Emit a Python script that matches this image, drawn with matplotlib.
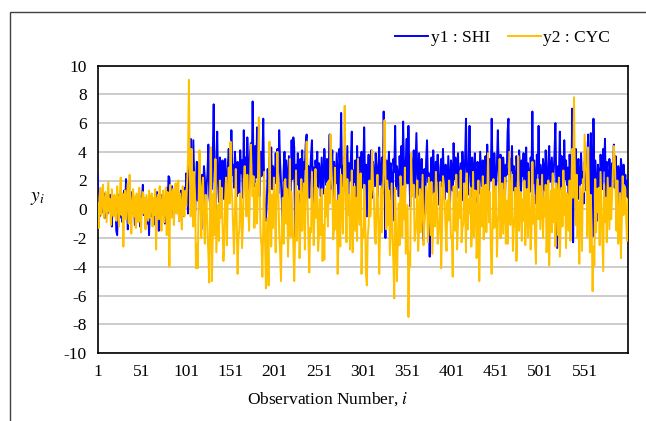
import numpy as np
import matplotlib
matplotlib.use('Agg')
import matplotlib.pyplot as plt
from matplotlib.patches import Rectangle

# observation values (600 obs per series)
y1_shi = [
    2.4, 0.3, -0.5, 0.6, 0.8, -0.2, 0.4, 1.1, -0.6, 0.2, 0.9, -0.3, 0.5, -0.1, 1.0, 0.3, -1.2, 0.7, 0.1, -0.4,
    0.6, -1.5, -1.8, 0.4, 1.0, -0.6, 0.2, 0.8, -0.9, 0.3, 1.3, -0.2, 2.1, 0.5, -1.4, 0.2, 0.9, -0.5, 0.4, 1.2,
    -0.3, 0.6, -1.1, 0.1, 0.8, -0.6, 0.3, 1.0, -1.2, 0.2, 0.7, 1.7, -0.4, 0.3, -0.8, 0.5, -1.0, 0.2, -1.8, 0.4,
    0.9, -0.5, 0.3, -1.1, 0.6, 0.1, -0.7, 1.2, 0.2, -1.5, 0.8, 0.3, -0.4, 1.0, -0.2, 0.6, -1.0, 0.4, 1.5, 0.2,
    2.3, 2.2, 0.5, -0.3, 1.6, 0.2, -0.6, 0.9, 0.3, -0.2, 1.1, 0.4, -0.8, 0.6, 1.3, 0.1, -0.5, 0.7, 1.5, 0.3,
    2.5, 1.8, -0.3, 3.2, 1.5, 4.9, 2.6, 1.2, 4.8, 2.0, -0.5, 1.9, 3.3, 0.6, 2.8, 3.2, 1.1, -1.4, 2.4, 0.8,
    3.0, 2.2, -0.8, 1.6, 2.5, 4.5, 1.0, 0.3, 2.1, 1.4, 3.8, 7.3, 2.0, -1.3, 3.1, 5.4, 1.8, 0.5, 3.6, 2.9,
    1.2, 3.4, 2.3, 0.7, 3.5, 2.1, 1.4, 3.0, 4.2, 2.6, 1.9, 5.5, 2.4, 3.1, 1.5, 4.0, 2.7, 0.9, 3.3, 2.0,
    1.1, 4.1, 2.5, 3.4, 0.8, 5.5, 2.2, 3.6, 1.7, 5.0, 2.9, 1.3, 3.8, 4.6, 2.4, 7.5, 3.0, 1.6, 4.4, 2.2,
    5.7, 1.9, 3.5, 0.9, 4.0, 2.3, 3.2, 6.3, 1.5, -0.3, -0.8, 0.5, 2.8, 1.2, 3.6, 2.0, 4.3, 1.4, 3.0, 2.6,
    1.8, 3.9, 2.4, 4.2, 1.1, 5.5, 3.3, 2.0, 0.6, -2.3, 2.7, 4.0, 1.6, 3.4, 2.2, 0.9, 3.7, 2.5, 1.3, 4.8,
    2.1, 5.0, 4.3, -2.2, 3.1, 1.7, 3.9, 2.6, 0.5, 3.5, 2.0, 4.1, 1.2, 3.3, 2.8, 4.6, 5.2, 1.9, 3.0, 0.8,
    2.5, 3.8, 4.8, 1.6, 2.9, 0.4, 3.4, 2.2, 4.0, 1.5, 3.2, 2.7, 0.9, 3.6, 2.3, 1.1, 4.2, 2.8, 1.7, 3.5,
    2.0, 3.1, 5.2, 1.4, 2.6, 4.1, 0.7, 3.3, 2.4, 1.8, 3.9, 2.1, 0.5, 4.2, 2.9, 6.7, 1.6, 3.0, 2.2, 3.7,
    1.3, 2.8, 4.4, 0.6, 3.2, 2.0, 3.5, 5.4, 1.0, 2.7, 1.9, 3.4, 0.3, 4.4, 2.5, 1.2, 3.6, 2.1, 4.0, 1.5,
    2.9, 5.7, 1.8, 3.1, -0.5, 2.4, 3.8, 1.3, 2.6, 4.1, 0.8, 3.3, 2.2, 1.6, 3.9, 2.7, 0.9, 3.0, 4.3, 1.7,
    2.4, 3.6, 1.1, 6.8, 2.9, -2.0, 3.4, 1.5, 2.8, 4.0, 0.7, 3.2, 2.1, -0.8, 3.5, 2.6, 5.8, 1.4, 3.0, 2.3,
    0.9, 3.7, 2.2, 4.4, 1.6, 6.1, 2.8, 0.5, 3.3, 4.9, 1.8, 5.8, 2.5, 0.2, 3.6, 1.2, 2.9, 4.1, 0.8, 3.0,
    5.3, 2.4, 1.0, 3.9, 2.7, -0.2, 3.5, 1.7, -2.2, 2.8, 0.6, 3.4, 4.8, 1.9, 2.5, -3.3, 2.2, 3.6, 1.1, 4.1,
    2.6, 0.9, 3.3, 2.0, 3.8, 1.4, 0.3, 2.9, 3.5, 1.6, 4.2, 2.3, 0.7, 3.1, 2.5, 1.2, 3.7, 2.0, 0.4, 3.4,
    2.7, 1.3, 4.6, 2.1, 3.6, 0.8, 2.9, 3.9, 1.5, 2.4, 3.2, 0.6, 4.0, 2.2, 1.7, 3.5, 6.3, 2.6, 1.0, 3.1,
    5.8, 2.3, 0.9, 3.6, 2.7, 1.4, 3.9, 2.0, 0.5, 3.3, 2.5, 1.1, 4.0, 2.8, 1.6, 3.4, 0.3, 2.9, 3.7, 1.8,
    4.5, 2.4, 1.2, 3.5, 2.0, 6.3, 2.7, 0.8, 3.9, 2.2, 1.5, 3.3, 5.5, 2.6, 0.9, 3.8, 2.1, 1.4, 3.6, 2.8,
    0.6, 3.1, 2.4, 5.4, 6.3, 1.9, 3.5, 2.7, 4.4, 1.3, 3.0, 2.2, 0.8, 3.7, 2.5, 1.6, 4.1, 2.9, 0.7, 3.4,
    2.3, 3.9, 1.5, 2.8, 4.3, 0.9, 3.2, 2.1, 1.2, 3.6, 2.6, 6.8, 1.8, 3.4, 2.0, 0.4, 3.8, 2.5, 5.8, 1.7,
    3.1, 2.4, -0.6, 3.5, 2.8, 1.3, 4.1, 2.2, 0.8, 3.3, 4.4, 1.9, 2.7, 3.6, 1.1, 2.5, 3.9, 6.0, 1.6, -2.7,
    3.0, 2.3, 5.4, 1.4, 3.7, 2.6, 0.9, 4.8, 2.1, 3.4, 1.7, 2.9, 0.5, 3.8, 2.4, 1.2, 7.0, -2.3, 3.1, 2.0,
    4.2, 1.5, 2.8, 3.5, 0.7, 2.2, 3.9, 1.8, 2.6, 0.4, 3.3, 2.1, 1.3, 3.6, 5.2, 2.4, 0.8, 5.3, 2.7, -1.9,
    6.3, 1.6, 3.4, 2.0, -0.8, 3.1, 2.5, 0.9, 3.8, 2.2, 1.4, 4.2, 2.7, 4.9, 0.6, 3.3, 2.0, 1.1, 3.5, 2.4,
    0.7, 3.2, 2.6, 4.5, 1.5, 3.7, 2.1, -0.3, 3.0, 2.3, 1.2, 3.5, 2.8, 0.5, 3.1, 1.8, 2.4, 0.9, 2.0, 1.9,
]

y2_cyc = [
    0.4, -1.3, 0.8, 1.5, -0.4, 0.9, 1.7, -0.6, 0.3, 1.2, -0.9, 0.5, 1.9, -0.2, 0.7, -1.1, 1.4, 0.2, -0.5, 1.0,
    0.3, -0.8, 1.6, 0.6, -1.2, 0.9, 2.2, -0.4, 1.1, -2.6, 0.5, 1.3, -0.7, 0.8, 1.8, -1.0, 2.4, 0.2, -1.7, 0.6,
    1.4, -0.5, 0.9, -1.3, 1.1, 0.3, -0.9, 1.5, 0.4, -1.6, 0.7, 1.2, -0.3, 0.8, -1.4, 1.0, 0.1, -0.8, 1.3, -0.6,
    0.5, 1.1, -1.2, 0.8, -0.4, 1.4, -2.8, 0.6, 1.0, -0.7, 1.6, 0.2, -1.5, 0.9, 1.3, -0.9, 0.4, 1.5, -1.8, 1.2,
    0.3, -4.0, 1.7, -0.6, 0.9, 1.4, -1.1, 0.5, 1.8, -0.3, 0.7, 2.0, -0.8, 1.1, 0.2, -1.4, 1.6, 0.4, -0.5, 1.3,
    0.2, 1.9, 3.5, 9.0, 2.8, -0.5, 4.2, 0.8, -1.2, 2.6, 1.0, -4.1, -2.4, -4.1, 0.6, 4.1, 1.2, -2.0, 1.5, 2.2,
    -0.9, -2.4, 1.0, 0.4, -1.6, -3.1, -5.1, 1.2, 4.3, -5.0, -1.7, 1.1, -1.8, 3.5, -3.0, -1.4, 0.3, -2.2, 2.0, -0.6,
    1.5, -1.1, -3.6, -2.4, 0.9, 2.2, -2.5, 1.1, 2.9, 0.4, 4.7, 1.9, 0.6, -1.3, -3.1, -0.5, 2.8, -0.8, -4.5, -2.0,
    -1.4, 1.1, 0.5, -2.7, -1.2, 2.0, 3.0, 1.6, -0.5, 2.4, 0.8, -1.5, 1.6, 4.5, 2.3, 0.9, 2.3, -1.3, 0.7, 1.8,
    -1.0, 2.2, 6.4, 1.3, -1.8, -2.5, -4.7, -0.9, 2.6, -2.1, -5.5, -1.7, -0.6, -5.3, 4.7, 0.4, -2.6, 1.0, -1.3, 2.2,
    0.6, -3.0, 1.0, 4.0, 1.5, -1.7, -2.9, -5.0, -1.2, 0.8, -2.4, 1.9, 2.1, -1.0, 1.4, -3.3, -0.5, 3.5, -1.9, 1.2,
    -0.7, -2.6, -5.0, -1.8, 2.7, -2.2, 0.9, 1.3, -3.4, -1.0, 2.1, -1.5, 0.4, 1.8, -2.8, 1.6, 4.7, 0.9, -2.0, -4.4,
    -1.3, -1.6, 2.6, 0.2, -2.5, -0.1, 2.8, -0.6, 1.5, -2.9, -1.7, 0.7, -1.8, 1.4, -3.6, -1.1, -3.5, 1.4, -0.5, 1.8,
    -1.2, 2.0, 0.4, 5.2, 2.8, 1.5, -2.1, -1.3, 2.9, -1.4, 0.6, -4.5, -2.2, 1.0, -2.6, 2.4, 0.8, -1.7, 1.9, 7.2,
    1.5, -2.3, 2.1, -0.4, 1.0, -2.8, -1.2, 2.7, -3.0, -0.5, 1.6, -1.5, 0.8, -2.2, 3.5, 0.1, -1.1, 2.5, -4.5, -1.4,
    -2.0, 1.7, 0.3, -4.5, -5.3, -1.9, -1.2, 2.0, -0.5, 1.2, 4.1, 1.8, 0.7, -1.9, -2.4, 0.6, 2.4, -0.9, -4.5, -1.2,
    1.5, -1.6, 0.8, 2.7, 6.2, 2.7, -1.4, 2.0, -1.1, 1.3, -3.2, -0.6, 1.8, -2.0, -3.7, -6.2, 1.5, -1.4, -5.0, -2.1,
    0.4, -2.5, 2.3, 1.2, -1.9, 1.6, -0.7, 2.9, -3.1, -1.5, 0.3, -7.5, -3.0, -4.0, 3.9, 1.3, 0.9, 1.7, -2.2, -1.6,
    -0.8, 2.0, -2.9, -1.4, 1.4, -1.6, 0.5, 2.4, -2.5, -1.1, -0.3, 1.6, 0.8, -2.3, 2.2, 0.2, -1.8, 1.9, -3.1, -1.0,
    1.1, -1.2, 2.6, 0.6, -2.4, -1.8, -0.5, 1.9, -4.1, -1.3, 2.3, 1.7, 0.4, -1.4, -2.9, 0.6, -0.8, 2.0, 0.3, -2.0,
    -1.9, -4.7, 1.6, 0.5, -1.5, 2.4, -2.8, -1.0, 1.2, -0.6, 2.7, -2.3, -1.3, -1.0, 1.8, 0.2, -3.0, 2.5, -1.4, 0.7,
    -0.3, 1.5, -2.6, -1.2, 2.6, -1.9, 0.6, 1.3, -3.4, -1.5, 2.0, -5.0, -0.9, 1.4, -1.2, 2.3, -2.1, 0.7, 1.7, -1.6,
    0.8, 3.9, -0.9, 1.2, -2.7, -4.5, -1.4, 2.1, -1.3, 0.5, 1.6, -3.3, -0.9, -0.4, 3.5, -2.0, 1.1, 1.8, -1.7, 0.3,
    2.2, -2.4, 0.6, -2.4, 1.0, 4.0, -1.1, 0.8, 2.4, -2.9, -1.3, -0.6, 1.5, -3.6, -1.0, 3.7, -1.5, 0.4, 1.2, -2.2,
    0.7, -0.8, 2.0, -2.5, 0.9, 1.4, -1.9, 2.6, 0.2, -2.8, -1.5, 3.3, -1.0, 1.0, -2.3, -3.8, 1.2, 2.1, -0.7, 1.6,
    -1.4, 0.6, 2.4, -2.0, 0.8, -0.5, 1.7, -3.0, -1.1, 2.0, -3.9, -0.3, 1.3, -1.6, 2.5, -0.9, 1.4, -2.6, 1.8, 0.5,
    -1.8, 2.2, -3.3, -1.0, 1.5, -1.2, 2.7, -0.4, 1.6, -2.7, 1.1, 0.7, -1.5, 2.0, -2.2, 1.3, 4.2, 0.8, 7.8, 2.4,
    -1.1, 2.4, -2.0, 0.5, -3.8, 1.6, 0.4, -2.9, 2.1, 1.2, 5.2, 3.6, 2.2, -1.9, 4.3, 0.9, -3.0, 1.0, -1.3, -5.7,
    -2.6, -3.9, 2.1, -1.6, 1.4, -0.2, 1.5, -2.5, 2.6, 0.3, -1.8, -4.3, 1.7, -0.9, 0.8, -2.3, 2.2, 0.5, -1.4, 1.5,
    -0.7, 0.9, 2.8, 4.4, 3.6, 1.3, -1.5, 2.0, -2.4, -1.2, 1.1, -3.4, -0.8, 2.3, -0.4, 1.6, 1.4, -0.9, -2.2, 0.7,
]

obs = np.arange(1, len(y1_shi) + 1)
x_ticks = [1, 51, 101, 151, 201, 251, 301, 351, 401, 451, 501, 551]
y_ticks = list(range(-10, 11, 2))

plt.rcParams['font.family'] = ['Liberation Serif', 'DejaVu Serif']
plt.rcParams['mathtext.fontset'] = 'stix'
plt.rcParams['axes.unicode_minus'] = False
plt.rcParams['font.size'] = 12.5

fig = plt.figure(figsize=(6.46, 4.21), dpi=100)
ax = fig.add_axes([97.7 / 646, 1 - 353 / 421, (628 - 97.7) / 646, (353 - 65.5) / 421])

ax.plot(obs, y1_shi, color='#0000FF', lw=1.4, label='y1 : SHI', zorder=3)
ax.plot(obs, y2_cyc, color='#FFC000', lw=1.4, label='y2 : CYC', zorder=4)

ax.set_xlim(1, len(y1_shi))
ax.set_ylim(-10, 10)
ax.set_xticks(x_ticks)
ax.set_yticks(y_ticks)
ax.tick_params(length=0, pad=8, labelsize=12.5, colors='black')
ax.yaxis.grid(True, color='#BFBFBF', lw=1.1)
ax.set_axisbelow(True)
for s in ax.spines.values():
    s.set_color('black')
    s.set_linewidth(1.2)

ax.set_xlabel('Observation Number, $i$', fontsize=12.5)
ax.xaxis.set_label_coords(0.434, -0.128)
ax.set_ylabel('$y_i$', rotation=0, fontsize=14, va='center', ha='center')
ax.yaxis.set_label_coords(-0.114, 0.536)

fig.legend(loc='center right', bbox_to_anchor=(617 / 646, 1 - 38 / 421), ncol=2,
           frameon=False, handlelength=1.9, handletextpad=0.15, columnspacing=1.0,
           fontsize=12.5, borderaxespad=0)

# outer chart-area border
fig.add_artist(Rectangle((10 / 646, -0.2), 1.2, 1.2 - 12 / 421, transform=fig.transFigure,
                         fill=False, edgecolor='#404040', lw=1.0))

fig.savefig('out.png', dpi=100)
